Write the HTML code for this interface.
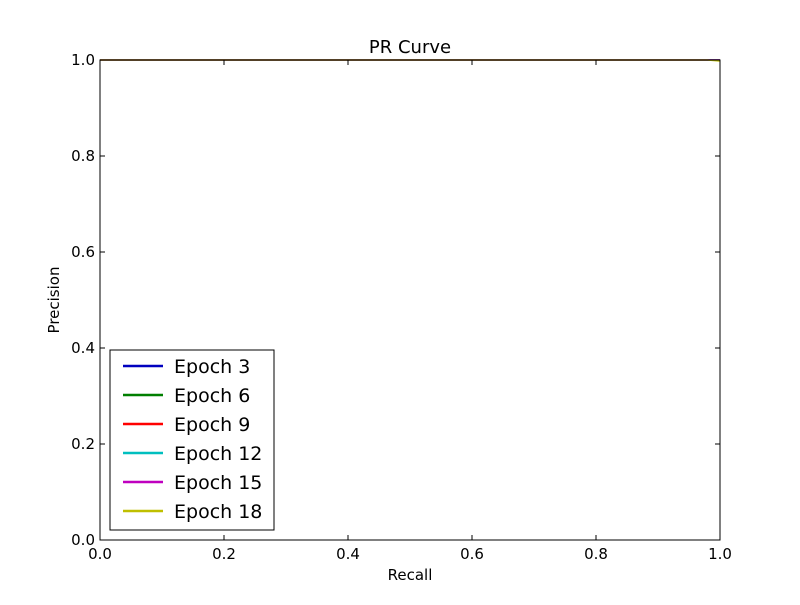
<!DOCTYPE html>
<html><head><meta charset="utf-8"><style>
body{margin:0;background:#fff;}
svg text{font-family:"DejaVu Sans",sans-serif;}
</style></head><body>
<svg width="800" height="600" id="c">
<rect x="0" y="0" width="800" height="600" fill="#fff"/>
<text x="410" y="53" font-size="18" text-anchor="middle">PR Curve</text>
<text x="410" y="580" font-size="15" text-anchor="middle">Recall</text>
<text x="59" y="300" font-size="15" text-anchor="middle" transform="rotate(-90 59 300)">Precision</text>
<g id="series"></g>
<g id="ticks"></g>
<rect x="100" y="60" width="620" height="480" fill="none" stroke="#000" stroke-width="1"/>
<g id="legend"></g>
</svg>
<script>
const seriesNames=["Epoch 3","Epoch 6","Epoch 9","Epoch 12","Epoch 15","Epoch 18"];
const seriesColors=["#0000bf","#007f00","#ff0000","#00bfbf","#bf00bf","#bfbf00"];
const recall=[0,0.5,0.98,1.0];
const precE3=[1,1,1,1];
const precE6=[1,1,1,1];
const precE9=[1,1,1,1];
const precE12=[1,1,1,1];
const precE15=[1,1,1,1];
const precE18=[1,1,1,0.998];
const allPrec=[precE3,precE6,precE9,precE12,precE15,precE18];
const xTicks=[0,0.2,0.4,0.6,0.8,1.0];
const yTicks=[0,0.2,0.4,0.6,0.8,1.0];
const NS="http://www.w3.org/2000/svg";
const X=v=>100+v*620, Y=v=>540-v*480;
const sg=document.getElementById('series');
allPrec.forEach((p,i)=>{
  const pl=document.createElementNS(NS,'polyline');
  pl.setAttribute('points',recall.map((r,j)=>X(r)+','+Y(p[j])).join(' '));
  pl.setAttribute('fill','none');pl.setAttribute('stroke',seriesColors[i]);pl.setAttribute('stroke-width','1.5');
  
  
  sg.appendChild(pl);
});
const tg=document.getElementById('ticks');
function mk(tag,at){const e=document.createElementNS(NS,tag);for(const k in at)e.setAttribute(k,at[k]);tg.appendChild(e);return e;}
xTicks.forEach(t=>{
  const x=X(t);
  const a=mk('line',{x1:x,x2:x,y1:540,y2:535,stroke:'#000'});
  
  
  const b=mk('line',{x1:x,x2:x,y1:60,y2:65,stroke:'#000'});
  
  
  const l=mk('text',{x:x,y:559,'font-size':15,'text-anchor':'middle'});l.textContent=t.toFixed(1);
  
  
});
yTicks.forEach(t=>{
  const y=Y(t);
  const a=mk('line',{x1:100,x2:105,y1:y,y2:y,stroke:'#000'});
  
  
  const b=mk('line',{x1:715,x2:720,y1:y,y2:y,stroke:'#000'});
  
  
  const l=mk('text',{x:95,y:y+5,'font-size':15,'text-anchor':'end'});l.textContent=t.toFixed(1);
  
  
});
const lg=document.getElementById('legend');
const box=document.createElementNS(NS,'rect');
box.setAttribute('x',110);box.setAttribute('y',350);box.setAttribute('width',164);box.setAttribute('height',180);
box.setAttribute('fill','#fff');box.setAttribute('stroke','#000');


lg.appendChild(box);
seriesNames.forEach((n,i)=>{
  const y=366+i*29;
  const ln=document.createElementNS(NS,'line');
  ln.setAttribute('x1',123);ln.setAttribute('x2',163);ln.setAttribute('y1',y);ln.setAttribute('y2',y);
  ln.setAttribute('stroke',seriesColors[i]);ln.setAttribute('stroke-width','2.5');
  
  
  lg.appendChild(ln);
  const t=document.createElementNS(NS,'text');
  t.setAttribute('x',174);t.setAttribute('y',y+7);t.setAttribute('font-size','19');
  t.textContent=n;
  
  
  lg.appendChild(t);
});
</script>
</body></html>
